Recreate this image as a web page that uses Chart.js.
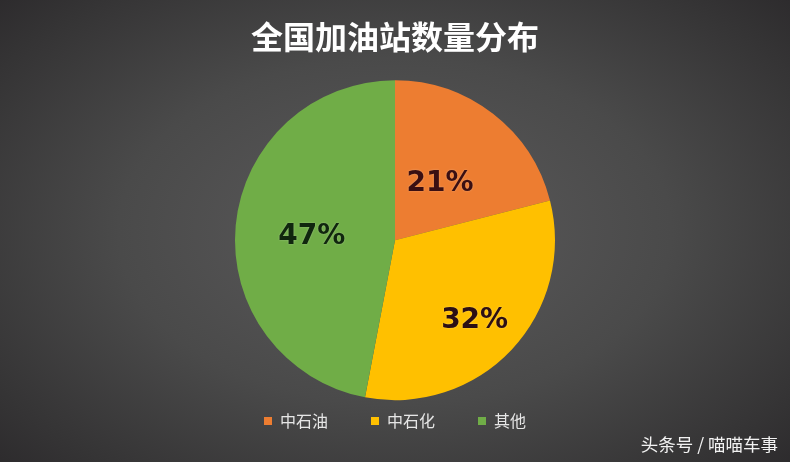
<!DOCTYPE html>
<html>
<head>
<meta charset="utf-8">
<script src="https://cdn.jsdelivr.net/npm/chart.js@4/dist/chart.umd.min.js"></script>
<style>
  html, body { margin: 0; padding: 0; }
  body {
    width: 790px; height: 462px; overflow: hidden; position: relative;
    background: radial-gradient(ellipse 70% 75% at 50% 50%, #5c5b5c 0%, #4a4a4a 50%, #353435 85%, #2c2a2c 100%);
  }
  #wrap { position: absolute; left: 0; top: 0; width: 790px; height: 462px; }
  #mark {
    position: absolute; right: 12px; bottom: 6px;
    color: #f2f2f2; font: 17.5px "Noto Sans CJK SC", sans-serif;
  }
</style>
</head>
<body>
<div id="wrap"><canvas id="pie"></canvas></div>
<div id="mark">头条号 / 喵喵车事</div>
<script>
// data
var categories = ['中石油', '中石化', '其他']
var shares = [21, 32, 47]
var sliceColors = ['#ed7d31', '#ffc000', '#70ad47']
var labelColors = ['#3a0f12', '#2c0f14', '#10260e']
var chartTitle = '全国加油站数量分布'

// how far from the centre each % label sits (fraction of radius)
var labelDist = [0.48, 0.70, 0.51]

var pctLabels = {
  id: 'pctLabels',
  afterDatasetsDraw: function (chart) {
    var ctx = chart.ctx
    var meta = chart.getDatasetMeta(0)
    ctx.save()
    ctx.font = 'bold 28px "DejaVu Sans", sans-serif'
    ctx.textAlign = 'center'
    ctx.textBaseline = 'middle'
    meta.data.forEach(function (arc, i) {
      var mid = (arc.startAngle + arc.endAngle) / 2
      var r = arc.outerRadius * labelDist[i]
      var x = arc.x + Math.cos(mid) * r - 2
      var y = arc.y + Math.sin(mid) * r + 4
      ctx.shadowColor = 'rgba(255,255,255,0.35)'
      ctx.shadowBlur = 2
      ctx.fillStyle = labelColors[i]
      ctx.fillText(shares[i] + '%', x, y)
    })
    ctx.restore()
  }
}

var myPie = new Chart(document.getElementById('pie').getContext('2d'), {
  type: 'pie',
  data: {
    labels: categories,
    datasets: [{
      data: shares,
      backgroundColor: sliceColors,
      borderWidth: 0,
      radius: 160
    }]
  },
  options: {
    responsive: true,
    maintainAspectRatio: false,
    animation: false,
    layout: { padding: { left: 0, right: 0, top: 0, bottom: 23 } },
    plugins: {
      tooltip: { enabled: false },
      title: {
        display: true,
        text: chartTitle,
        color: '#ffffff',
        font: { family: '"Noto Sans CJK SC", sans-serif', size: 32, weight: 'bold' },
        padding: { top: 18, bottom: 54 }
      },
      legend: {
        position: 'bottom',
        labels: {
          color: '#e6e6e6',
          boxWidth: 8,
          boxHeight: 8,
          padding: 43,
          font: { family: '"Noto Sans CJK SC", sans-serif', size: 16 }
        }
      }
    }
  },
  plugins: [pctLabels]
})
</script>
</body>
</html>
